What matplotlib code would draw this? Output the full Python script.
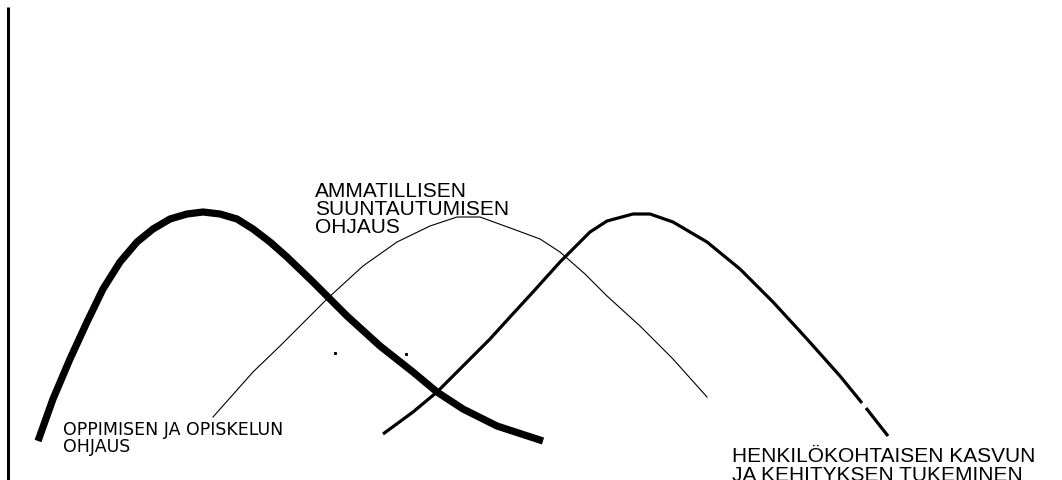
import numpy as np
import matplotlib
matplotlib.use('Agg')
import matplotlib.pyplot as plt

# kurvien pisteet (x, y) kuvan koordinaateissa, y alaspäin
oppiminen_x = [38, 53, 70, 87, 103, 120, 137, 153, 170, 187, 203, 220, 237, 253, 270, 287,
               313, 330, 347, 380, 413, 437, 463, 497, 543]
oppiminen_y = [442, 400, 360, 323, 290, 263, 243, 230, 220, 215, 213, 215, 220, 230, 243, 258,
               283, 300, 317, 347, 373, 393, 410, 427, 442]

ammatti_x = [213, 253, 280, 300, 327, 363, 397, 430, 457, 480, 513, 540, 560, 585, 607,
             640, 673, 707]
ammatti_y = [418, 373, 347, 327, 300, 267, 243, 227, 218, 218, 230, 240, 253, 275, 297,
             327, 360, 398]

henkilo_x = [383, 413, 437, 463, 490, 510, 533, 560, 590, 607, 633, 650, 673, 707, 740,
             773, 807, 840, 862]
henkilo_y = [435, 413, 393, 367, 340, 318, 293, 263, 233, 222, 215, 215, 223, 243, 270,
             303, 340, 377, 404]
henkilo_loppu_x = [866, 888]
henkilo_loppu_y = [409, 437]

pisteet_x = [335, 406]
pisteet_y = [354, 355]

otsikot = ["OPPIMISEN JA OPISKELUN\nOHJAUS",
           "AMMATILLISEN\nSUUNTAUTUMISEN\nOHJAUS",
           "HENKILÖKOHTAISEN KASVUN\nJA KEHITYKSEN TUKEMINEN"]

fig = plt.figure(figsize=(10.62, 4.81), dpi=100)
ax = fig.add_axes([0, 0, 1, 1])
ax.set_xlim(0, 1062)
ax.set_ylim(481, 0)
ax.axis('off')

# pystyakseli
ax.plot([8, 8], [8, 481], color='black', linewidth=2.2, solid_capstyle='butt')

ax.plot(oppiminen_x, oppiminen_y, color='black', linewidth=5.2,
        solid_capstyle='butt', solid_joinstyle='round')
ax.plot(ammatti_x, ammatti_y, color='black', linewidth=0.8,
        solid_joinstyle='round')
ax.plot(henkilo_x, henkilo_y, color='black', linewidth=2.3,
        solid_capstyle='butt', solid_joinstyle='round')
ax.plot(henkilo_loppu_x, henkilo_loppu_y, color='black', linewidth=2.3,
        solid_capstyle='butt')

# pienet pisteet
ax.plot(pisteet_x, pisteet_y, linestyle='none', marker='s', markersize=1.2, color='black')

ax.text(63, 421, otsikot[0], fontsize=12.5, family='DejaVu Sans',
        va='top', ha='left', linespacing=0.95)
ax.text(315, 182, otsikot[1], fontsize=15, family='Liberation Sans',
        va='top', ha='left', linespacing=0.95)
ax.text(732, 447, otsikot[2], fontsize=15, family='Liberation Sans',
        va='top', ha='left', linespacing=0.97)

plt.savefig('out.png', dpi=100)
